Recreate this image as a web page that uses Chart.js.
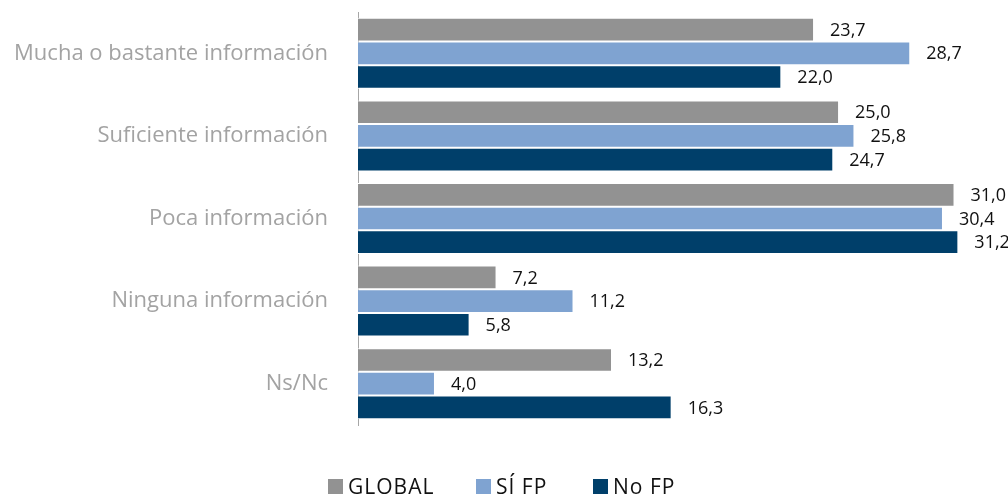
<!DOCTYPE html>
<html>
<head>
<meta charset="utf-8">
<script src="https://cdn.jsdelivr.net/npm/chart.js@4/dist/chart.umd.min.js"></script>
<style>
  html, body { margin: 0; padding: 0; background: #fff; }
  #wrap { position: relative; width: 1008px; height: 495px; }
  #legend { position: absolute; left: 0; top: 0; width: 1008px; height: 495px; pointer-events: none; font-family: "Open Sans", sans-serif; font-size: 21px; color: #111; letter-spacing: 1px; }
  .item { position: absolute; top: 472px; display: flex; align-items: center; white-space: nowrap; line-height: 28px; }
  .box { width: 15px; height: 15px; margin-right: 5px; display: inline-block; }
</style>
</head>
<body>
<div id="wrap">
  <canvas id="c" width="1008" height="495"></canvas>
  <div id="legend"></div>
</div>
<script>
const categories = ["Mucha o bastante información", "Suficiente información", "Poca información", "Ninguna información", "Ns/Nc"];
const seriesNames = ["GLOBAL", "SÍ FP", "No FP"];
const globalValues = [23.7, 25.0, 31.0, 7.2, 13.2];
const siFpValues = [28.7, 25.8, 30.4, 11.2, 4.0];
const noFpValues = [22.0, 24.7, 31.2, 5.8, 16.3];
const colors = ["#929292", "#7fa3d1", "#003f6a"];
const legendLefts = [328, 476, 593];

const FONT = "'Open Sans', sans-serif";

const valueLabels = {
  id: 'valueLabels',
  afterDatasetsDraw(chart) {
    const ctx = chart.ctx;
    ctx.save();
    ctx.font = "18px " + FONT;
    ctx.fillStyle = "#111";
    ctx.textAlign = "left";
    ctx.textBaseline = "middle";
    chart.data.datasets.forEach((ds, i) => {
      const meta = chart.getDatasetMeta(i);
      meta.data.forEach((bar, j) => {
        const v = ds.data[j];
        ctx.fillText(v.toFixed(1).replace('.', ','), bar.x + 16, bar.y + 1);
      });
    });
    ctx.restore();
  }
};

const data = {
  labels: categories,
  datasets: [globalValues, siFpValues, noFpValues].map((vals, i) => ({
    label: seriesNames[i],
    data: vals,
    backgroundColor: colors[i],
    borderColor: "#ffffff",
    borderWidth: 1,
    borderSkipped: 'start',
    categoryPercentage: 0.86,
    barPercentage: 1.0
  }))
};

new Chart(document.getElementById('c'), {
  type: 'bar',
  data,
  plugins: [valueLabels],
  options: {
    indexAxis: 'y',
    responsive: false,
    animation: false,
    layout: { padding: { top: 12, right: 15, bottom: 70, left: 0 } },
    plugins: { legend: { display: false }, tooltip: { enabled: false } },
    scales: {
      x: {
        display: false,
        min: 0,
        max: 33
      },
      y: {
        grid: { display: false, drawTicks: false },
        border: { display: true, color: "#a6a6a6", width: 1 },
        ticks: { color: "#a3a3a3", font: { family: FONT, size: 22 }, padding: 30 },
        afterFit(scale) { scale.width = 358; scale.paddingTop = 0; scale.paddingBottom = 0; }
      }
    }
  }
});

const legend = document.getElementById('legend');
seriesNames.forEach((name, i) => {
  const it = document.createElement('div');
  it.className = 'item';
  it.style.left = legendLefts[i] + 'px';
  const b = document.createElement('span');
  b.className = 'box';
  b.style.background = colors[i];
  const t = document.createElement('span');
  t.textContent = name;
  it.appendChild(b); it.appendChild(t);
  legend.appendChild(it);
});
</script>
</body>
</html>
